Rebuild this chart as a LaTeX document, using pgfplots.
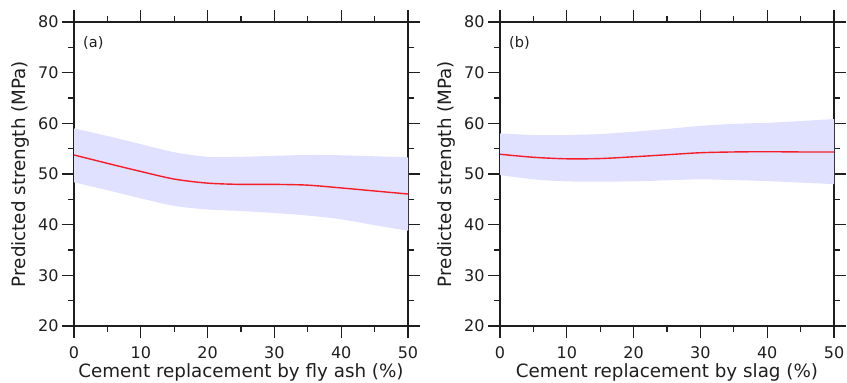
\documentclass[border=0pt]{standalone}
\usepackage{fontspec}
\setmainfont{DejaVu Sans}
\usepackage{pgfplots}
\pgfplotsset{compat=1.18}
\usepgfplotslibrary{fillbetween}
\definecolor{bandc}{RGB}{224,224,255}
\definecolor{linec}{RGB}{245,30,40}
\definecolor{framec}{RGB}{30,30,30}
\pgfplotsset{
  panel/.style={
    scale only axis, width=334pt, height=304pt,
    xmin=0, xmax=50, ymin=20, ymax=80,
    xtick={0,10,...,50}, ytick={20,30,...,80},
    minor x tick num=1, minor y tick num=1,
    tick align=outside, tick pos=both,
    xticklabel pos=bottom, yticklabel pos=left,
    major tick length=12pt, minor tick length=6pt,
    axis line style={framec, line width=1.3pt},
    every tick/.style={framec, line width=1.3pt},
    /pgf/number format/assume math mode=true,
    tick label style={font=\fontsize{16}{19}\selectfont, text=framec},
    label style={font=\fontsize{18.3}{22}\selectfont, text=framec},
    xticklabel style={yshift=-5pt},
    ylabel={Predicted strength (MPa)},
    ylabel style={at={(axis description cs:-0.159,0.5)}, anchor=center},
    xlabel style={at={(axis description cs:0.5,-0.168)}, anchor=base},
  }
}
\begin{document}
\begin{tikzpicture}
\begin{axis}[panel, at={(0pt,0pt)}, anchor=south west,
  xlabel={Cement replacement by fly ash (\%)}]
\addplot[name path=ua, draw=none, smooth] coordinates {(0,59.0) (5,57.5) (10,55.9) (15,54.3) (20,53.4) (25,53.4) (30,53.6) (35,53.75) (40,53.7) (45,53.5) (50,53.3)};
\addplot[name path=la, draw=none, smooth] coordinates {(0,48.35) (5,46.8) (10,45.2) (15,43.7) (20,43.0) (25,42.7) (30,42.3) (35,41.8) (40,41.05) (45,39.9) (50,38.8)};
\addplot[bandc, draw=none] fill between[of=ua and la];
\addplot[linec, line width=1.4pt, smooth] coordinates {(0,53.75) (5,52.1) (10,50.5) (15,49.0) (20,48.2) (25,47.95) (30,47.95) (35,47.8) (40,47.25) (45,46.65) (50,46.05)};
\node[anchor=west, inner sep=0pt, font=\fontsize{14.5}{17}\selectfont, text=framec] at (axis description cs:0.027,0.931) {(a)};
\end{axis}
\begin{axis}[panel, at={(426pt,0pt)}, anchor=south west,
  xlabel={Cement replacement by slag (\%)}]
\addplot[name path=ub, draw=none, smooth] coordinates {(0,58.0) (5,57.7) (10,57.7) (15,57.9) (20,58.35) (25,58.9) (30,59.5) (35,59.9) (40,60.1) (45,60.45) (50,60.85)};
\addplot[name path=lb, draw=none, smooth] coordinates {(0,49.8) (5,48.95) (10,48.55) (15,48.5) (20,48.55) (25,48.75) (30,48.95) (35,48.8) (40,48.6) (45,48.3) (50,48.0)};
\addplot[bandc, draw=none] fill between[of=ub and lb];
\addplot[linec, line width=1.4pt, smooth] coordinates {(0,53.9) (5,53.3) (10,53.0) (15,53.05) (20,53.4) (25,53.8) (30,54.2) (35,54.35) (40,54.4) (45,54.35) (50,54.35)};
\node[anchor=west, inner sep=0pt, font=\fontsize{14.5}{17}\selectfont, text=framec] at (axis description cs:0.027,0.931) {(b)};
\end{axis}
\pgfresetboundingbox
\path[use as bounding box] (-74pt,-57pt) rectangle (773pt,326pt);
\end{tikzpicture}
\end{document}
